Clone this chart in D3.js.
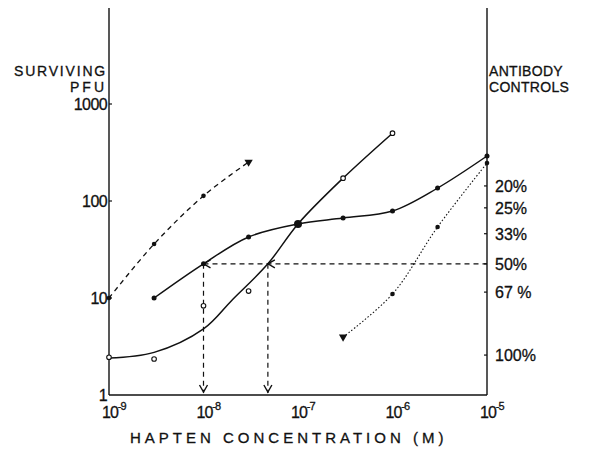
<!DOCTYPE html>
<html>
<head>
<meta charset="utf-8">
<script src="https://cdn.jsdelivr.net/npm/d3@7"></script>
<style>
  body { margin: 0; background: #fff; }
  text { font-family: "Liberation Sans", Arial, sans-serif; fill: #111; stroke: #111; stroke-width: 0.3; }
</style>
</head>
<body>
<svg id="chart" width="589" height="456"></svg>
<script>
// hapten concentrations (M)
const concA = [1e-9, 3e-9, 1e-8, 3e-8];
const pfuA = [10, 36, 113, 252];

const concB = [3e-9, 1e-8, 3e-8, 1e-7, 3e-7, 1e-6, 3e-6, 1e-5];
const pfuB = [10, 22.5, 42.6, 58, 66.8, 78.9, 136, 291];

// measured open circles and the drawn fitted curve
const concC = [1e-9, 3e-9, 1e-8, 3e-8, 3e-7, 1e-6];
const pfuC = [2.45, 2.35, 8.3, 11.8, 172, 500];
const concCfit = [1e-9, 3e-9, 1e-8, 2e-8, 4.8e-8, 1e-7, 3e-7, 1e-6];
const pfuCfit = [2.4, 2.75, 4.8, 9.5, 22.5, 58, 172, 500];

const concD = [3e-7, 1e-6, 3e-6, 1e-5];
const pfuD = [3.96, 11, 54, 246];

// 50% level and the two read-off concentrations
const halfLevel = 22.5;
const halfConc = [1e-8, 4.8e-8];

// axes
const xTicks = [1e-9, 1e-8, 1e-7, 1e-6, 1e-5];
const xExp = ["-9", "-8", "-7", "-6", "-5"];
const yTicks = [1, 10, 100, 1000];
const yLabels = ["1", "10", "100", "1000"];
const rightLabels = ["20%", "25%", "33%", "50%", "67 %", "100%"];
const rightValues = [143, 85, 46, 22.5, 11.5, 2.58];

const svg = d3.select("#chart");

const x = d3.scaleLog().domain([1e-9, 1e-5]).range([109, 487]);
const y = d3.scaleLog().domain([1, 1000]).range([395, 104]);
const yTop = 8;

const line = d3.line()
    .x(d => x(d[0]))
    .y(d => y(d[1]))
    .curve(d3.curveCatmullRom.alpha(0.5));

const zip = (a, b) => a.map((v, i) => [v, b[i]]);

// axis lines
svg.append("line").attr("x1", x(1e-9)).attr("x2", x(1e-9))
    .attr("y1", y(1)).attr("y2", yTop).attr("stroke", "#111").attr("stroke-width", 1.4);
svg.append("line").attr("x1", x(1e-5)).attr("x2", x(1e-5))
    .attr("y1", y(1)).attr("y2", yTop).attr("stroke", "#111").attr("stroke-width", 1.4);
svg.append("line").attr("x1", x(1e-9)).attr("x2", x(1e-5))
    .attr("y1", y(1)).attr("y2", y(1)).attr("stroke", "#111").attr("stroke-width", 1.4);

// left ticks + labels
yTicks.forEach((t, i) => {
    if (i > 0) {
        svg.append("line").attr("x1", x(1e-9)).attr("x2", x(1e-9) + 3)
            .attr("y1", y(t)).attr("y2", y(t)).attr("stroke", "#111").attr("stroke-width", 1.2);
    }
    svg.append("text").attr("x", x(1e-9) - 2).attr("y", y(t) + 6)
        .attr("text-anchor", "end").attr("font-size", 16).attr("letter-spacing", -0.6)
        .text(yLabels[i]);
});

svg.append("text").attr("x", 107).attr("y", 76).attr("text-anchor", "end")
    .attr("font-size", 14).attr("letter-spacing", 1.8).text("SURVIVING");
svg.append("text").attr("x", 107).attr("y", 92).attr("text-anchor", "end")
    .attr("font-size", 14).attr("letter-spacing", 3).text("PFU");

// right ticks + labels
rightValues.forEach((v, i) => {
    svg.append("line").attr("x1", x(1e-5) - 3).attr("x2", x(1e-5))
        .attr("y1", y(v)).attr("y2", y(v)).attr("stroke", "#111").attr("stroke-width", 1.2);
    svg.append("text").attr("x", x(1e-5) + 8).attr("y", y(v) + 6)
        .attr("font-size", 16).text(rightLabels[i]);
});
svg.append("text").attr("x", 489).attr("y", 76).attr("font-size", 14).attr("letter-spacing", 0.3).text("ANTIBODY");
svg.append("text").attr("x", 489).attr("y", 92).attr("font-size", 14).attr("letter-spacing", 0.3).text("CONTROLS");

// bottom tick labels
xTicks.forEach((t, i) => {
    const tx = svg.append("text").attr("x", x(t) - 7).attr("y", 418).attr("font-size", 16)
        .attr("letter-spacing", -1);
    tx.append("tspan").text("10");
    tx.append("tspan").attr("dy", -8).attr("font-size", 11).text(xExp[i]);
});
svg.append("text").attr("x", 130).attr("y", 443).attr("font-size", 15)
    .attr("letter-spacing", 4).text("HAPTEN  CONCENTRATION (M)");

// 50% guide lines
svg.append("line").attr("x1", x(halfConc[0])).attr("x2", x(1e-5))
    .attr("y1", y(halfLevel)).attr("y2", y(halfLevel))
    .attr("stroke", "#111").attr("stroke-width", 1.2).attr("stroke-dasharray", "5,4");
halfConc.forEach(c => {
    svg.append("line").attr("x1", x(c)).attr("x2", x(c))
        .attr("y1", y(halfLevel)).attr("y2", y(1) - 2)
        .attr("stroke", "#111").attr("stroke-width", 1.2).attr("stroke-dasharray", "5,4");
    // down arrow at the axis
    svg.append("path")
        .attr("d", `M${x(c) - 4},${y(1) - 10} L${x(c)},${y(1) - 3} L${x(c) + 4},${y(1) - 10}`)
        .attr("fill", "none").attr("stroke", "#111").attr("stroke-width", 1.4);
    // left arrow at the crossing
    svg.append("path")
        .attr("d", `M${x(c) + 7},${y(halfLevel) - 4} L${x(c)},${y(halfLevel)} L${x(c) + 7},${y(halfLevel) + 4}`)
        .attr("fill", "none").attr("stroke", "#111").attr("stroke-width", 1.4);
});

// series A dashed
svg.append("path").attr("d", line(zip(concA, pfuA)))
    .attr("fill", "none").attr("stroke", "#111").attr("stroke-width", 1.3)
    .attr("stroke-dasharray", "5,4");
// series B solid
svg.append("path").attr("d", line(zip(concB, pfuB)))
    .attr("fill", "none").attr("stroke", "#111").attr("stroke-width", 1.5);
// series C fitted curve
svg.append("path").attr("d", line(zip(concCfit, pfuCfit)))
    .attr("fill", "none").attr("stroke", "#111").attr("stroke-width", 1.5);
// series D dotted
svg.append("path").attr("d", line(zip(concD, pfuD)))
    .attr("fill", "none").attr("stroke", "#111").attr("stroke-width", 1.1)
    .attr("stroke-dasharray", "1.5,2");

// markers
const dots = (cs, vs, r) => svg.append("g").selectAll("circle")
    .data(zip(cs, vs)).join("circle")
    .attr("cx", d => x(d[0])).attr("cy", d => y(d[1])).attr("r", r).attr("fill", "#111");

dots(concA.slice(0, 3), pfuA.slice(0, 3), 2.3);
dots(concB, pfuB, 2.5);
dots(concD.slice(1), pfuD.slice(1), 2.3);

svg.append("g").selectAll("circle")
    .data(zip(concC, pfuC)).join("circle")
    .attr("cx", d => x(d[0])).attr("cy", d => y(d[1])).attr("r", 2.3)
    .attr("fill", "#fff").attr("stroke", "#111").attr("stroke-width", 1.1);

// big shared point at 1e-7
svg.append("circle").attr("cx", x(1e-7)).attr("cy", y(58)).attr("r", 4).attr("fill", "#111");

// triangles at the ends of A and D
const tri = d3.symbol().type(d3.symbolTriangle).size(30);
svg.append("path").attr("d", tri)
    .attr("transform", `translate(${x(concA[3])},${y(pfuA[3])}) rotate(60)`)
    .attr("fill", "#111");
svg.append("path").attr("d", tri)
    .attr("transform", `translate(${x(concD[0])},${y(pfuD[0])}) rotate(180)`)
    .attr("fill", "#111");
</script>
</body>
</html>
